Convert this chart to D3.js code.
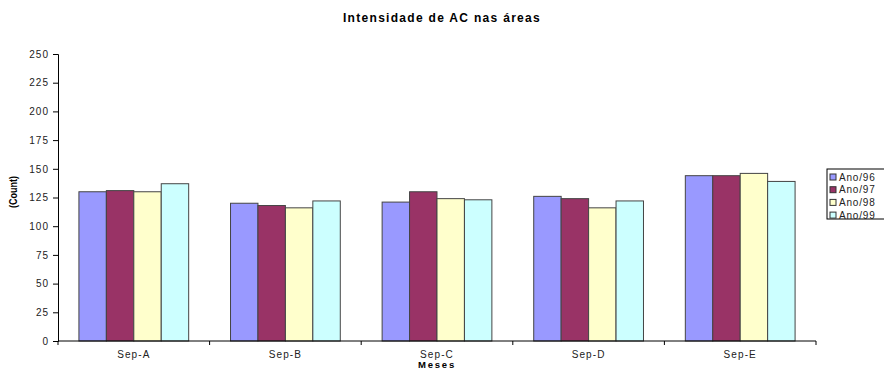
<!DOCTYPE html>
<html>
<head>
<meta charset="utf-8">
<script src="https://cdn.jsdelivr.net/npm/d3@7"></script>
<style>
  html, body { margin: 0; padding: 0; background: #fff; }
  svg { display: block; font-family: "Liberation Sans", Arial, sans-serif; }
</style>
</head>
<body>
<svg id="chart" width="884" height="371"></svg>
<script>
// Categories (areas) and yearly series
const categories = ["Sep-A", "Sep-B", "Sep-C", "Sep-D", "Sep-E"];
const seriesNames = ["Ano/96", "Ano/97", "Ano/98", "Ano/99"];
const ano96 = [130, 120, 121, 126, 144];
const ano97 = [131, 118, 130, 124, 144];
const ano98 = [130, 116, 124, 116, 146];
const ano99 = [137, 122, 123, 122, 139];
const seriesColors = ["#9999FF", "#993366", "#FFFFCC", "#CCFFFF"];
const yTicks = [0, 25, 50, 75, 100, 125, 150, 175, 200, 225, 250];

const seriesValues = [ano96, ano97, ano98, ano99];

const svg = d3.select("#chart");
const margin = { left: 58, right: 68, top: 54, bottom: 30 };
const W = 884, H = 371;
const x0 = margin.left, x1 = W - margin.right;
const yTop = margin.top, yBottom = H - margin.bottom;

const x = d3.scaleBand().domain(categories).range([x0, x1]).paddingInner(0.276).paddingOuter(0.138);
const xs = d3.scaleBand().domain(seriesNames).range([0, x.bandwidth()]);
const y = d3.scaleLinear().domain([0, 250]).range([yBottom, yTop]);

// Title
svg.append("text")
  .attr("x", 442).attr("y", 22)
  .attr("text-anchor", "middle")
  .attr("font-size", 12).attr("font-weight", "bold")
  .attr("letter-spacing", 1.3)
  .text("Intensidade de AC nas áreas");

// Bars
const groups = svg.append("g").selectAll("g")
  .data(categories)
  .join("g")
  .attr("transform", d => `translate(${x(d)},0)`);

groups.selectAll("rect")
  .data((c, i) => seriesNames.map((s, k) => ({ s, k, v: seriesValues[k][i] })))
  .join("rect")
  .attr("x", d => xs(d.s))
  .attr("y", d => y(d.v))
  .attr("width", xs.bandwidth())
  .attr("height", d => y(0) - y(d.v))
  .attr("fill", d => seriesColors[d.k])
  .attr("stroke", "#444")
  .attr("stroke-width", 1);

// Y axis
const yAxis = d3.axisLeft(y).tickValues(yTicks).tickSize(5).tickPadding(4);
const gy = svg.append("g").attr("transform", `translate(${x0},0)`).call(yAxis);
gy.select(".domain").attr("stroke", "#000");
gy.selectAll(".tick line").attr("stroke", "#000");
gy.selectAll(".tick text").attr("font-size", 10).attr("fill", "#222")
  .attr("letter-spacing", 1)
  .attr("font-family", "Liberation Sans, Arial, sans-serif");

// X axis: ticks at category boundaries
const gx = svg.append("g").attr("transform", `translate(0,${yBottom})`);
gx.append("line").attr("x1", x0).attr("x2", x1).attr("y1", 0).attr("y2", 0).attr("stroke", "#000");
const step = (x1 - x0) / categories.length;
d3.range(categories.length + 1).forEach(i => {
  gx.append("line")
    .attr("x1", x0 + i * step).attr("x2", x0 + i * step)
    .attr("y1", 0).attr("y2", 4).attr("stroke", "#000");
});
gx.selectAll("text.cat")
  .data(categories)
  .join("text")
  .attr("class", "cat")
  .attr("x", d => x(d) + x.bandwidth() / 2)
  .attr("y", 17)
  .attr("text-anchor", "middle")
  .attr("font-size", 10).attr("fill", "#222")
  .attr("letter-spacing", 1.1)
  .text(d => d);

// Axis titles
svg.append("text")
  .attr("x", (x0 + x1) / 2).attr("y", 368)
  .attr("text-anchor", "middle")
  .attr("font-size", 9.5).attr("font-weight", "bold")
  .attr("letter-spacing", 1.8)
  .text("Meses");

svg.append("text")
  .attr("transform", "translate(17,192) rotate(-90)")
  .attr("text-anchor", "middle")
  .attr("font-size", 10).attr("font-weight", "bold")
  .attr("textLength", 32).attr("lengthAdjust", "spacingAndGlyphs")
  .text("(Count)");

// Legend
const lg = svg.append("g").attr("transform", "translate(827,169)");
lg.append("rect").attr("x", 0).attr("y", 0).attr("width", 60).attr("height", 50)
  .attr("fill", "#fff").attr("stroke", "#000");
const items = lg.selectAll("g.item")
  .data(seriesNames)
  .join("g")
  .attr("class", "item")
  .attr("transform", (d, i) => `translate(3,${5 + i * 12.7})`);
items.append("rect")
  .attr("width", 6).attr("height", 6)
  .attr("fill", (d, i) => seriesColors[i])
  .attr("stroke", "#333");
items.append("text")
  .attr("x", 9).attr("y", 6.5)
  .attr("font-size", 10).attr("fill", "#222")
  .attr("letter-spacing", 0.8)
  .text(d => d);
</script>
</body>
</html>
